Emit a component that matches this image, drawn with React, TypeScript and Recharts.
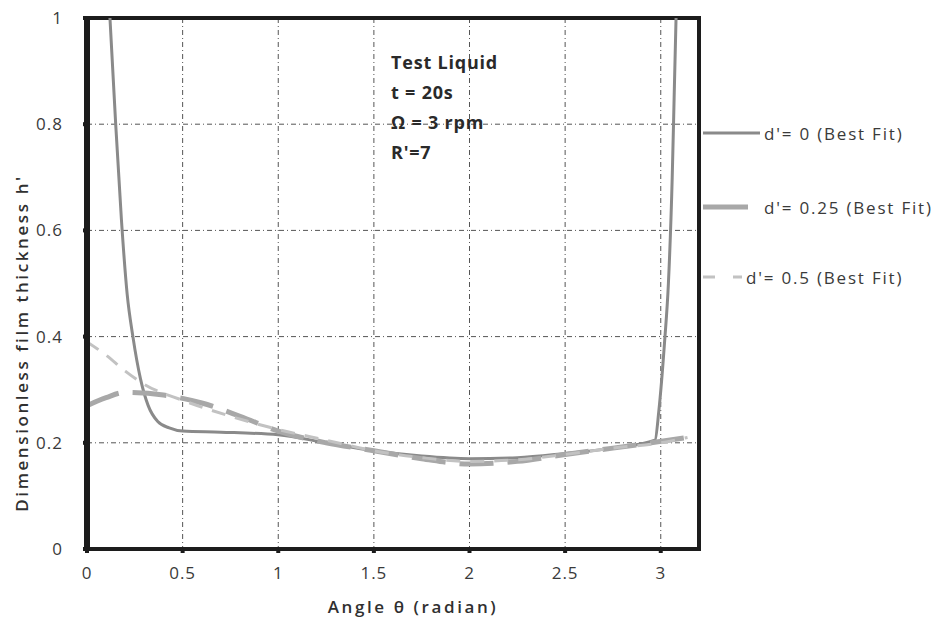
import {
  LineChart,
  Line,
  XAxis,
  YAxis,
  CartesianGrid,
  ReferenceArea,
} from "recharts";

// ─── Data ────────────────────────────────────────────────────────────────────

const X_TICKS = [0, 0.5, 1, 1.5, 2, 2.5, 3];
const Y_TICKS = [0, 0.2, 0.4, 0.6, 0.8, 1];
const X_MINOR_TICKS = [0.1, 0.2, 0.3, 0.4, 0.6, 0.7, 0.8, 0.9, 1.1, 1.2, 1.3, 1.4, 1.6, 1.7, 1.8, 1.9, 2.1, 2.2, 2.3, 2.4, 2.6, 2.7, 2.8, 2.9, 3.1];
const Y_MINOR_TICKS = [0.1, 0.3, 0.5, 0.7, 0.9];

// d' = 0 (best fit)
const D0_THETA = [0.12, 0.15, 0.18, 0.21, 0.24, 0.28, 0.32, 0.37, 0.43, 0.5, 0.7, 1.0, 1.25, 1.5, 1.75, 2.0, 2.25, 2.5, 2.75, 2.97, 2.99, 3.02, 3.04, 3.06, 3.07, 3.08];
const D0_H = [1.0, 0.8, 0.62, 0.48, 0.4, 0.32, 0.27, 0.24, 0.228, 0.222, 0.22, 0.215, 0.2, 0.185, 0.175, 0.17, 0.172, 0.18, 0.19, 0.205, 0.26, 0.39, 0.5, 0.7, 0.85, 1.0];

// d' = 0.25 (best fit)
const D25_THETA = [0, 0.1, 0.2, 0.4, 0.6, 0.8, 1.0, 1.25, 1.5, 1.75, 2.0, 2.25, 2.5, 2.75, 2.95, 3.14];
const D25_H = [0.27, 0.285, 0.295, 0.29, 0.275, 0.25, 0.222, 0.2, 0.185, 0.17, 0.16, 0.165, 0.178, 0.19, 0.2, 0.21];

// d' = 0.5 (best fit)
const D50_THETA = [0, 0.1, 0.2, 0.3, 0.5, 0.75, 1.0, 1.25, 1.5, 1.75, 2.0, 2.25, 2.5, 2.75, 3.0, 3.14];
const D50_H = [0.39, 0.365, 0.335, 0.31, 0.28, 0.25, 0.225, 0.205, 0.185, 0.172, 0.165, 0.168, 0.178, 0.19, 0.2, 0.21];

const ANNOTATION = ["Test Liquid", "t = 20s", "Ω = 3 rpm", "R'=7"];

const zip = (xs: number[], ys: number[]) => xs.map((x, i) => ({ theta: x, h: ys[i] }));

const SERIES = [
  { name: "d'= 0 (Best Fit)", data: zip(D0_THETA, D0_H), stroke: "#8a8a8a", width: 3, dash: undefined as string | undefined },
  { name: "d'= 0.25 (Best Fit)", data: zip(D25_THETA, D25_H), stroke: "#a8a8a8", width: 5, dash: "34 14" },
  { name: "d'= 0.5 (Best Fit)", data: zip(D50_THETA, D50_H), stroke: "#c2c2c2", width: 3, dash: "14 10" },
];

// ─── Styles ──────────────────────────────────────────────────────────────────

const FONT = "'Open Sans', Lato, sans-serif";
const TICK_STYLE = { fill: "#3a3a3a", fontSize: 17, fontFamily: FONT, letterSpacing: 1 };
const TITLE_STYLE = { fill: "#303030", fontSize: 17, fontFamily: FONT, fontWeight: 600, letterSpacing: 2.6 };
const FRAME = "#1c1c1c";

// legend rows: line length, dash pattern and vertical position
const LEGEND_ROWS = [
  { top: 123, lineEnd: 58, dash: undefined as string | undefined },
  { top: 197, lineEnd: 46, dash: undefined },
  { top: 267, lineEnd: 40, dash: "12 18 10" },
];

function LegendBox() {
  return (
    <div style={{ position: "absolute", left: 702, top: 0, fontFamily: FONT, fontSize: 17, color: "#3a3a3a" }}>
      {SERIES.map((s, i) => (
        <div
          key={s.name}
          style={{ position: "absolute", left: 0, top: LEGEND_ROWS[i].top, display: "flex", alignItems: "center", height: 20 }}
        >
          <svg width={62} height={12}>
            <line
              x1={1}
              x2={LEGEND_ROWS[i].lineEnd}
              y1={6}
              y2={6}
              stroke={s.stroke}
              strokeWidth={s.width}
              strokeDasharray={LEGEND_ROWS[i].dash}
            />
          </svg>
          <span style={{ marginLeft: i === 2 ? -18 : 0, whiteSpace: "nowrap", letterSpacing: 1.8 }}>{s.name}</span>
        </div>
      ))}
    </div>
  );
}

export default function App() {
  return (
    <div style={{ position: "absolute", left: 0, top: 0, width: 948, height: 632, background: "#fff" }}>
      <LineChart width={948} height={632} margin={{ top: 18, right: 249, left: 20, bottom: 0 }}>
        <CartesianGrid stroke="#555" strokeDasharray="5 3 1 3" strokeWidth={1} />
        <XAxis
          xAxisId="minor"
          type="number"
          domain={[0, 3.2]}
          ticks={X_MINOR_TICKS}
          tick={false}
          tickLine={{ stroke: FRAME, strokeWidth: 3 }}
          tickSize={3}
          mirror
          axisLine={false}
          height={0}
        />
        <XAxis
          type="number"
          dataKey="theta"
          domain={[0, 3.2]}
          ticks={X_TICKS}
          allowDataOverflow
          tick={TICK_STYLE}
          tickLine={{ stroke: FRAME, strokeWidth: 4 }}
          tickSize={4}
          tickMargin={14}
          axisLine={false}
          height={83}
          label={{
            content: ({ viewBox }: any) => (
              <text x={viewBox.x + viewBox.width / 2 + 20} y={613} textAnchor="middle" style={TITLE_STYLE}>
                Angle  θ (radian)
              </text>
            ),
          }}
        />
        <YAxis
          yAxisId="minor"
          type="number"
          domain={[0, 1]}
          ticks={Y_MINOR_TICKS}
          tick={false}
          tickLine={{ stroke: FRAME, strokeWidth: 3 }}
          tickSize={4}
          mirror
          axisLine={false}
          width={0}
        />
        <YAxis
          type="number"
          dataKey="h"
          domain={[0, 1]}
          ticks={Y_TICKS}
          allowDataOverflow
          tick={TICK_STYLE}
          tickLine={{ stroke: FRAME, strokeWidth: 4 }}
          tickSize={4}
          tickMargin={20}
          axisLine={{ stroke: FRAME, strokeWidth: 6 }}
          width={67}
          label={{
            content: () => (
              <text
                x={28}
                y={343}
                transform="rotate(-90 28 343)"
                textAnchor="middle"
                style={TITLE_STYLE}
              >
                Dimensionless film thickness h'
              </text>
            ),
          }}
        />
        <ReferenceArea x1={0} x2={3.2} y1={0} y2={1} fill="none" stroke={FRAME} strokeWidth={4} />
        {SERIES.map((s) => (
          <Line
            key={s.name}
            data={s.data}
            dataKey="h"
            name={s.name}
            type="monotone"
            stroke={s.stroke}
            strokeWidth={s.width}
            strokeDasharray={s.dash}
            dot={false}
            activeDot={false}
            isAnimationActive={false}
          />
        ))}
      </LineChart>
      <LegendBox />
      <div
        style={{
          position: "absolute",
          left: 391,
          top: 47,
          fontFamily: FONT,
          fontSize: 18,
          fontWeight: 700,
          color: "#2a2a2a",
          lineHeight: "30px",
          letterSpacing: 0.8,
        }}
      >
        {ANNOTATION.map((t) => (
          <div key={t}>{t}</div>
        ))}
      </div>
    </div>
  );
}
